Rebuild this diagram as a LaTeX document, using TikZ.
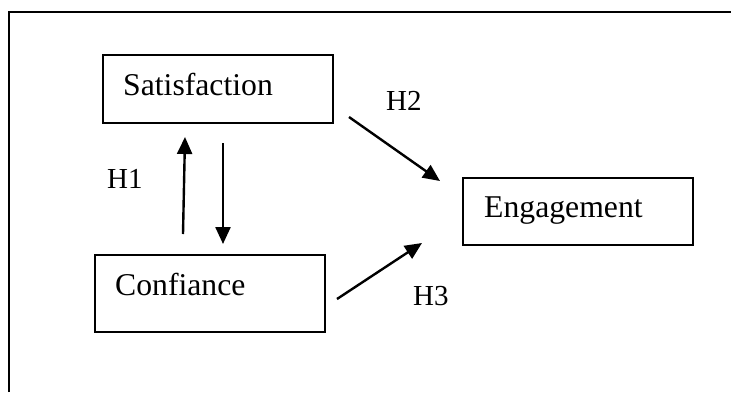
\documentclass[tikz,border=0pt]{standalone}
\usepackage{fontspec}
\setmainfont{Liberation Serif}
\usetikzlibrary{arrows.meta}
\begin{document}
\begin{tikzpicture}[x=1pt,y=-1pt,
 box/.style={draw, line width=1.3pt, inner sep=0pt},
 lbl/.style={anchor=base west, inner sep=0pt, font=\fontsize{31.7}{36}\selectfont},
 hyp/.style={anchor=base west, inner sep=0pt, font=\fontsize{29}{34}\selectfont},
 arr/.style={line width=2.4pt, -{Triangle[length=17pt,width=15pt]}}]
\useasboundingbox (0,0) rectangle (731,392);
\draw[line width=2.6pt] (9,392) -- (9,12) -- (731,12);
% boxes
\node[box, minimum width=230pt, minimum height=68pt] (sat) at (218,89) {};
\node[box, minimum width=230pt, minimum height=77pt] (conf) at (210,293.5) {};
\node[box, minimum width=230pt, minimum height=67pt] (eng) at (578,211.5) {};
% box texts
\node[lbl] (tsat) at (123,95) {Satisfaction};
\node[lbl] (tconf) at (115,295) {Confiance};
\node[lbl] (teng) at (484,217) {Engagement};
% hypothesis labels
\node[hyp] (h1) at (107,188) {H1};
\node[hyp] (h2) at (386,110) {H2};
\node[hyp] (h3) at (413,305) {H3};
% arrow endpoints
\coordinate (a1s) at (183,234);
\coordinate (a1e) at (185,137);
\coordinate (a2s) at (223,143);
\coordinate (a2e) at (223,244);
\coordinate (a3s) at (349,117);
\coordinate (a3e) at (440,181);
\coordinate (a4s) at (337,299);
\coordinate (a4e) at (422,243);
\draw[arr] (a1s) -- (a1e);
\draw[arr] (a2s) -- (a2e);
\draw[arr] (a3s) -- (a3e);
\draw[arr] (a4s) -- (a4e);
\end{tikzpicture}
\end{document}
